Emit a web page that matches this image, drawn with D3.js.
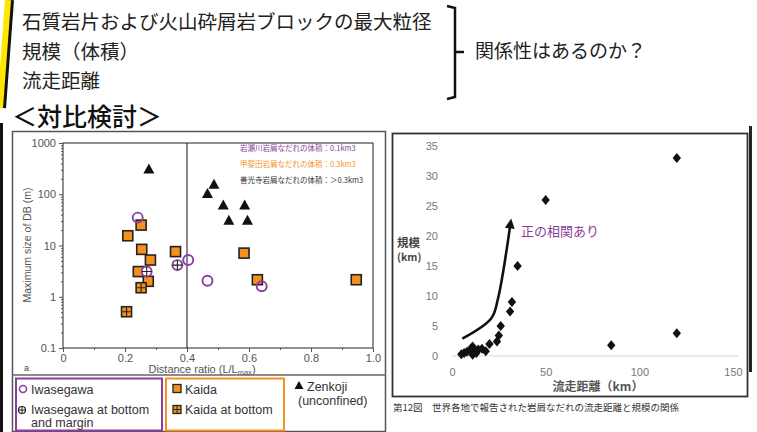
<!DOCTYPE html>
<html>
<head>
<meta charset="utf-8">
<script src="https://cdn.jsdelivr.net/npm/d3@7"></script>
<style>
  body { margin: 0; background: #fff; }
  svg { display: block; }
</style>
</head>
<body>
<div id="slide"></div>
<script>
var svgWidth = 757;
var svgHeight = 432;

// slide text
var questionLines = ["石質岩片および火山砕屑岩ブロックの最大粒径", "規模（体積）", "流走距離"];
var questionText = "関係性はあるのか？";
var sectionTitle = "＜対比検討＞";

// left chart: distance ratio vs maximum size of DB (log)
var leftXTicks = [0, 0.2, 0.4, 0.6, 0.8, 1.0];
var leftYTicks = [0.1, 1, 10, 100, 1000];
var zenkojiX = [0.277, 0.466, 0.487, 0.517, 0.535, 0.586, 0.595];
var zenkojiY = [310, 103, 157, 62, 31, 62, 31];
var kaidaX = [0.252, 0.209, 0.254, 0.363, 0.282, 0.243, 0.275, 0.584, 0.627, 0.946];
var kaidaY = [25, 15.5, 8.4, 7.6, 5.2, 3.1, 2.0, 7.1, 2.15, 2.15];
var kaidaBottomX = [0.252, 0.205];
var kaidaBottomY = [1.5, 0.51];
var iwaseX = [0.241, 0.404, 0.466, 0.641];
var iwaseY = [35, 5.2, 2.05, 1.6];
var iwaseBottomX = [0.270, 0.369];
var iwaseBottomY = [3.1, 4.15];
var ratioSplit = 0.4;
var volumeNotes = ["岩瀬川岩屑なだれの体積：0.1km3", "甲斐田岩屑なだれの体積：0.3km3", "善光寺岩屑なだれの体積：＞0.3km3"];

// right chart: runout distance vs volume
var rightXTicks = [0, 50, 100, 150];
var rightYTicks = [0, 5, 10, 15, 20, 25, 30, 35];
var runoutKm = [5, 6.5, 8, 10, 11, 12, 11, 13, 14, 16, 18, 20, 24, 25, 26, 31, 32, 35, 50, 85, 120, 120];
var volumeKm = [0.3, 0.5, 0.7, 1.2, 1.6, 0.9, 0.2, 0.5, 1.1, 1.2, 0.8, 2.0, 2.4, 3.4, 5.0, 7.4, 9.0, 15, 26, 1.8, 3.8, 33];
// trend arrow in data units (km, km)
var trendX = [5.5, 21, 24.5, 31];
var trendY = [2.9, 6.3, 9.5, 21.6];
var trendLabel = "正の相関あり";
var caption = "第12図\u3000世界各地で報告された岩屑なだれの流走距離と規模の関係";

var purple = "#8a3e9e";
var orange = "#f5921e";
var jp = "'Noto Sans CJK JP', sans-serif";
var sans = "'Liberation Sans', Arial, sans-serif";

var svg = d3.select("#slide")
  .append("svg")
  .attr("width", svgWidth)
  .attr("height", svgHeight);

// slide frame bits (speech bubble edge and dark border)
svg.append("path")
  .attr("d", "M10,0 Q6,55 2,108")
  .attr("fill", "none")
  .attr("stroke", "#111")
  .attr("stroke-width", 8);
svg.append("path")
  .attr("d", "M8,0 Q4,55 0,108")
  .attr("fill", "none")
  .attr("stroke", "#ffe600")
  .attr("stroke-width", 6);
svg.append("rect").attr("x", 0).attr("y", 123).attr("width", 3).attr("height", 309).attr("fill", "#111");
svg.append("rect").attr("x", 749).attr("y", 126).attr("width", 3).attr("height", 246).attr("fill", "#222");

// question text
svg.append("g")
  .selectAll("text")
  .data(questionLines)
  .enter()
  .append("text")
  .attr("x", 22)
  .attr("y", (d, i) => 29 + i * 29.5)
  .attr("font-family", jp)
  .attr("font-size", 19.5)
  .attr("fill", "#222")
  .text(d => d);

svg.append("path")
  .attr("d", "M447,6 L455,8 L455,97 L447,99 M455,52 L464,52")
  .attr("fill", "none")
  .attr("stroke", "#111")
  .attr("stroke-width", 2.5);

svg.append("text")
  .attr("x", 475)
  .attr("y", 58)
  .attr("font-family", jp)
  .attr("font-size", 19)
  .attr("fill", "#222")
  .text(questionText);

svg.append("text")
  .attr("x", 12)
  .attr("y", 126)
  .attr("font-family", jp)
  .attr("font-size", 25)
  .attr("font-weight", 500)
  .attr("fill", "#111")
  .text(sectionTitle);

// ==============================
// Left figure
// ==============================
svg.append("rect")
  .attr("x", 12.5).attr("y", 131.5)
  .attr("width", 373).attr("height", 300)
  .attr("fill", "#fff")
  .attr("stroke", "#555")
  .attr("stroke-width", 1.5);
svg.append("line")
  .attr("x1", 12).attr("x2", 386).attr("y1", 375).attr("y2", 375)
  .attr("stroke", "#666").attr("stroke-width", 1.5);

var xLeft = d3.scaleLinear().domain([0, 1]).range([63, 373]);
var yLeft = d3.scaleLog().domain([0.1, 1000]).range([348, 143]);

var leftGroup = svg.append("g");

leftGroup.append("rect")
  .attr("x", xLeft(0)).attr("y", yLeft(1000))
  .attr("width", xLeft(1) - xLeft(0)).attr("height", yLeft(0.1) - yLeft(1000))
  .attr("fill", "none").attr("stroke", "#222").attr("stroke-width", 1);

// minor ticks
var minorY = [];
leftYTicks.slice(0, -1).forEach(function(t) {
  for (var k = 2; k < 10; k++) minorY.push(t * k);
});
leftGroup.append("g")
  .attr("transform", `translate(${xLeft(0)},0)`)
  .call(d3.axisLeft(yLeft).tickValues(minorY).tickSize(2).tickFormat(""))
  .call(g => g.select(".domain").remove());
leftGroup.append("g")
  .attr("transform", `translate(0,${yLeft(0.1)})`)
  .call(d3.axisBottom(xLeft).tickValues(d3.range(1, 10, 2).map(d => d / 10)).tickSize(2).tickFormat(""))
  .call(g => g.select(".domain").remove());

var leftAxisY = leftGroup.append("g")
  .attr("transform", `translate(${xLeft(0)},0)`)
  .call(d3.axisLeft(yLeft).tickValues(leftYTicks).tickSize(4).tickPadding(3).tickFormat(d => String(d)));
var leftAxisX = leftGroup.append("g")
  .attr("transform", `translate(0,${yLeft(0.1)})`)
  .call(d3.axisBottom(xLeft).tickValues(leftXTicks).tickSize(4).tickPadding(2).tickFormat(d => d === 0 ? "0" : d.toFixed(1)));
[leftAxisX, leftAxisY].forEach(function(ax) {
  ax.select(".domain").remove();
  ax.selectAll("text").attr("font-family", sans).attr("font-size", 11).attr("fill", "#555");
});
leftGroup.selectAll(".tick line").attr("stroke", "#555");

leftGroup.append("line")
  .attr("x1", xLeft(ratioSplit)).attr("x2", xLeft(ratioSplit))
  .attr("y1", yLeft(1000)).attr("y2", yLeft(0.1))
  .attr("stroke", "#111").attr("stroke-width", 1);

leftGroup.append("text")
  .attr("transform", "rotate(-90)")
  .attr("x", -245).attr("y", 31)
  .attr("text-anchor", "middle")
  .attr("font-family", sans).attr("font-size", 10.5).attr("fill", "#555")
  .text("Maximum size of DB (m)");

var xTitle = leftGroup.append("text")
  .attr("x", 202).attr("y", 373)
  .attr("text-anchor", "middle")
  .attr("font-family", sans).attr("font-size", 11).attr("fill", "#555");
xTitle.append("tspan").text("Distance ratio (L/L");
xTitle.append("tspan").attr("font-size", 7.5).attr("dy", 2).text("max");
xTitle.append("tspan").attr("dy", -2).text(")");

leftGroup.append("text")
  .attr("x", 24).attr("y", 371)
  .attr("font-family", sans).attr("font-size", 9).attr("fill", "#444")
  .text("a");

leftGroup.selectAll(".note")
  .data(volumeNotes)
  .enter()
  .append("text")
  .attr("class", "note")
  .attr("x", 240)
  .attr("y", (d, i) => 151 + i * 16)
  .attr("font-family", jp).attr("font-size", 7.5)
  .attr("fill", (d, i) => [purple, orange, "#333"][i])
  .text(d => d);

// marker helpers
function drawTriangle(g, x, y) {
  g.append("path").attr("transform", `translate(${x},${y})`)
    .attr("d", "M0,-5.5L5.5,4.5L-5.5,4.5Z").attr("fill", "#111");
}
function drawSquare(g, x, y, hatched) {
  g.append("rect").attr("x", x - 5).attr("y", y - 5).attr("width", 10).attr("height", 10)
    .attr("fill", orange).attr("stroke", "#222").attr("stroke-width", 1.6);
  if (hatched) {
    g.append("path").attr("d", `M${x},${y - 4}V${y + 4}M${x - 4},${y}H${x + 4}`)
      .attr("stroke", "#222").attr("stroke-width", 1.2);
  }
}
function drawCircle(g, x, y, plus) {
  g.append("circle").attr("cx", x).attr("cy", y).attr("r", 5)
    .attr("fill", plus ? "#fff" : "none").attr("stroke", purple).attr("stroke-width", 1.9);
  if (plus) {
    g.append("path").attr("d", `M${x},${y - 5}V${y + 5}M${x - 5},${y}H${x + 5}`)
      .attr("stroke", "#222").attr("stroke-width", 1.1);
  }
}

zenkojiX.forEach((d, i) => drawTriangle(leftGroup, xLeft(d), yLeft(zenkojiY[i])));
kaidaX.forEach((d, i) => drawSquare(leftGroup, xLeft(d), yLeft(kaidaY[i]), false));
kaidaBottomX.forEach((d, i) => drawSquare(leftGroup, xLeft(d), yLeft(kaidaBottomY[i]), true));
iwaseX.forEach((d, i) => drawCircle(leftGroup, xLeft(d), yLeft(iwaseY[i]), false));
iwaseBottomX.forEach((d, i) => drawCircle(leftGroup, xLeft(d), yLeft(iwaseBottomY[i]), true));

// legend
var legend = svg.append("g");
legend.append("rect").attr("x", 16).attr("y", 378.5).attr("width", 146).attr("height", 52)
  .attr("fill", "none").attr("stroke", purple).attr("stroke-width", 2);
legend.append("rect").attr("x", 166).attr("y", 378.5).attr("width", 118).attr("height", 52)
  .attr("fill", "none").attr("stroke", orange).attr("stroke-width", 2);

legend.append("circle").attr("cx", 23).attr("cy", 389).attr("r", 3.5)
  .attr("fill", "none").attr("stroke", purple).attr("stroke-width", 1.6);
legend.append("circle").attr("cx", 22).attr("cy", 410).attr("r", 3.5)
  .attr("fill", "#fff").attr("stroke", "#222").attr("stroke-width", 1.2);
legend.append("path").attr("d", "M22,406.5V413.5M18.5,410H25.5").attr("stroke", "#222").attr("stroke-width", 1);
legend.append("rect").attr("x", 173).attr("y", 384.5).attr("width", 8).attr("height", 8)
  .attr("fill", orange).attr("stroke", "#222").attr("stroke-width", 1.3);
legend.append("rect").attr("x", 173).attr("y", 405.5).attr("width", 8).attr("height", 8)
  .attr("fill", orange).attr("stroke", "#222").attr("stroke-width", 1.3);
legend.append("path").attr("d", "M177,406V413M173.5,409.5H180.5").attr("stroke", "#222").attr("stroke-width", 1);
legend.append("path").attr("d", "M299,381L303.5,389L294.5,389Z").attr("fill", "#111");

var legendTexts = [
  { t: "Iwasegawa", x: 31, y: 394 },
  { t: "Iwasegawa at bottom", x: 31, y: 414 },
  { t: "and margin", x: 31, y: 427 },
  { t: "Kaida", x: 185, y: 394 },
  { t: "Kaida at bottom", x: 185, y: 414 },
  { t: "Zenkoji", x: 307, y: 391 },
  { t: "(unconfined)", x: 298, y: 405 }
];
legend.selectAll("text")
  .data(legendTexts)
  .enter()
  .append("text")
  .attr("x", d => d.x).attr("y", d => d.y)
  .attr("font-family", sans).attr("font-size", 12.5).attr("fill", "#333")
  .text(d => d.t);

// ==============================
// Right figure
// ==============================
svg.append("rect")
  .attr("x", 392.5).attr("y", 133.5)
  .attr("width", 355).attr("height", 263)
  .attr("fill", "#fff")
  .attr("stroke", "#333")
  .attr("stroke-width", 1.8);

var xRight = d3.scaleLinear().domain([0, 150]).range([452, 733]);
var yRight = d3.scaleLinear().domain([0, 35]).range([356, 146]);

var rightGroup = svg.append("g");

var rightAxisX = rightGroup.append("g")
  .attr("transform", `translate(0,${yRight(0)})`)
  .call(d3.axisBottom(xRight).tickValues(rightXTicks).tickSize(0).tickPadding(12));
rightAxisX.select(".domain").attr("stroke", "#d6d6d6").attr("d", `M${xRight(0)},0H${xRight(150) + 6}`);
var rightAxisY = rightGroup.append("g")
  .attr("transform", `translate(${xRight(0) - 6},0)`)
  .call(d3.axisLeft(yRight).tickValues(rightYTicks).tickSize(0).tickPadding(8));
rightAxisY.select(".domain").remove();
[rightAxisX, rightAxisY].forEach(function(ax) {
  ax.selectAll("text").attr("font-family", sans).attr("font-size", 11).attr("fill", "#777");
});

rightGroup.selectAll(".pt")
  .data(runoutKm)
  .enter()
  .append("path")
  .attr("class", "pt")
  .attr("transform", (d, i) => `translate(${xRight(d)},${yRight(volumeKm[i])})`)
  .attr("d", "M0,-5L4.2,0L0,5L-4.2,0Z")
  .attr("fill", "#111");

// trend arrow
svg.append("defs").append("marker")
  .attr("id", "head")
  .attr("viewBox", "0 0 10 10")
  .attr("refX", 2).attr("refY", 5)
  .attr("markerWidth", 4.6).attr("markerHeight", 3.8)
  .attr("orient", "auto")
  .append("path").attr("d", "M0,0L10,5L0,10Z").attr("fill", "#111");

var trendLine = d3.line()
  .x((d, i) => xRight(d))
  .y((d, i) => yRight(trendY[i]))
  .curve(d3.curveCatmullRom);
rightGroup.append("path")
  .attr("d", trendLine(trendX))
  .attr("fill", "none")
  .attr("stroke", "#111")
  .attr("stroke-width", 2.6)
  .attr("marker-end", "url(#head)");

rightGroup.append("text")
  .attr("x", 521).attr("y", 236)
  .attr("font-family", jp).attr("font-size", 13).attr("fill", purple)
  .text(trendLabel);

rightGroup.append("text")
  .attr("x", 397).attr("y", 247)
  .attr("font-family", jp).attr("font-size", 11.5).attr("font-weight", "bold").attr("fill", "#444")
  .text("規模");
rightGroup.append("text")
  .attr("x", 397).attr("y", 261)
  .attr("font-family", jp).attr("font-size", 10.5).attr("font-weight", "bold").attr("fill", "#444")
  .text("(km)");
rightGroup.append("text")
  .attr("x", 598).attr("y", 391)
  .attr("text-anchor", "middle")
  .attr("font-family", jp).attr("font-size", 12).attr("font-weight", "bold").attr("fill", "#555")
  .text("流走距離（km）");

svg.append("text")
  .attr("x", 393).attr("y", 411)
  .attr("font-family", jp).attr("font-size", 9.5).attr("fill", "#333")
  .text(caption);
</script>
</body>
</html>
